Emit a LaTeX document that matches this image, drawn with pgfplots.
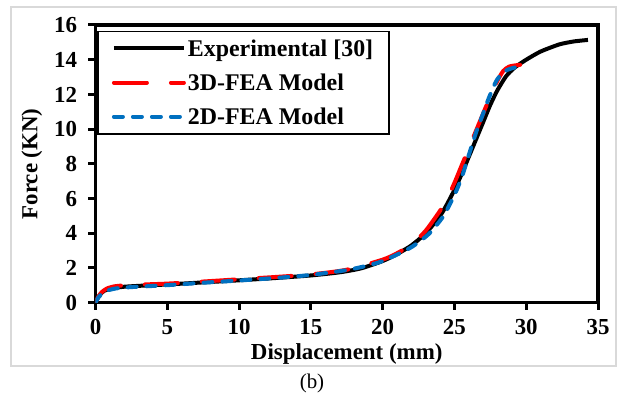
\documentclass[border=0pt]{standalone}
\usepackage{fontspec}
\setmainfont{Liberation Serif}
\usepackage{pgfplots}
\pgfplotsset{compat=1.18}
\definecolor{exblue}{RGB}{0,112,192}
\definecolor{framegray}{RGB}{217,217,217}
\begin{document}
\begin{tikzpicture}
\useasboundingbox (-95.5bp,-99.3bp) rectangle (529.5bp,302.7bp);
\draw[framegray, line width=1.2bp] (-84.5bp,-63.3bp) rectangle (520.5bp,295.7bp);
\node[font=\fontsize{21}{24}\selectfont] at (216.5bp,-80.3bp) {(b)};
\begin{axis}[
  at={(0,0)}, anchor=south west,
  scale only axis,
  width=502.5bp, height=277.7bp,
  xmin=0, xmax=35, ymin=0, ymax=16,
  xtick={0,5,...,35}, ytick={0,2,...,16},
  axis line style={line width=3.5bp},
  tick align=outside, tick pos=left,
  major tick length=7bp,
  every tick/.style={black, line width=3bp},
  /pgf/number format/assume math mode=true,
  tick label style={font=\fontsize{23}{26}\selectfont\bfseries},
  xticklabel style={yshift=-6bp},
  yticklabel style={xshift=-8bp},
  xlabel={Displacement (mm)},
  ylabel={Force (KN)},
  label style={font=\fontsize{23}{26}\selectfont\bfseries},
  xlabel style={at={(axis description cs:0.5,0)}, anchor=center, yshift=-51bp},
  ylabel style={at={(axis description cs:-0.1264,0.5)}, anchor=center},
  legend style={at={(0.003,0.98)}, anchor=north west, draw=black, line width=1.8bp,
     font=\fontsize{24}{26}\selectfont\bfseries, inner xsep=14bp, inner ysep=6bp,
     row sep=12bp},
  legend cell align=left,
  legend image code/.code={\draw[#1] (0bp,0bp) -- (70bp,0bp);},
]
\addplot[black, line width=4bp, smooth, tension=0.4] coordinates {
(0,0) (0.15,0.25) (0.35,0.5) (0.6,0.68) (1.0,0.8) (1.5,0.87) (2,0.92) (3,0.97)
(5,1.05) (7.5,1.17) (10,1.29) (12.5,1.42) (15,1.57) (17,1.75) (18.5,1.98)
(20,2.4) (21,2.8) (22,3.3) (23,4.0) (24,5.0) (24.5,5.7) (25,6.5) (25.5,7.4)
(26,8.4) (26.5,9.4) (27,10.4) (27.5,11.4) (28,12.25) (28.6,13.05) (29.2,13.55)
(30,14.0) (31,14.47) (32.3,14.88) (33.3,15.05) (34.3,15.14)
};
\addlegendentry{Experimental [30]}
\addplot[red, line width=4bp, line cap=round, dash pattern=on 33bp off 24bp, smooth, tension=0.4] coordinates {
(0,0) (0.2,0.35) (0.45,0.62) (0.8,0.82) (1.3,0.94) (2,1.0) (3,1.04) (5,1.1)
(7.5,1.22) (10,1.35) (12.5,1.48) (15,1.63) (17.5,1.9) (20,2.48) (21,2.85)
(22,3.35) (23,4.15) (24,5.3) (24.5,6.0) (25,6.9) (25.5,7.9) (26,8.9) (26.5,9.9)
(27,10.9) (27.5,11.9) (28,12.8) (28.4,13.35) (28.8,13.6) (29.3,13.68) (29.8,13.72)
};
\addlegendentry{3D-FEA Model}
\addplot[exblue, line width=4bp, line cap=round, dash pattern=on 9bp off 10bp, smooth, tension=0.4] coordinates {
(0,0) (0.2,0.3) (0.5,0.55) (0.9,0.72) (1.5,0.83) (2.5,0.9) (5,1.01) (7.5,1.15)
(10,1.28) (12.5,1.42) (15,1.6) (17.5,1.88) (19,2.15) (20,2.4) (21.2,2.85)
(22.1,3.25) (23.2,3.95) (24.2,4.95) (25,6.2) (25.5,7.2) (26,8.5) (26.5,9.8)
(27,10.9) (27.4,11.8) (27.9,12.75) (28.3,13.2) (28.7,13.42) (29.2,13.55)
};
\addlegendentry{2D-FEA Model}
\end{axis}
\end{tikzpicture}
\end{document}
